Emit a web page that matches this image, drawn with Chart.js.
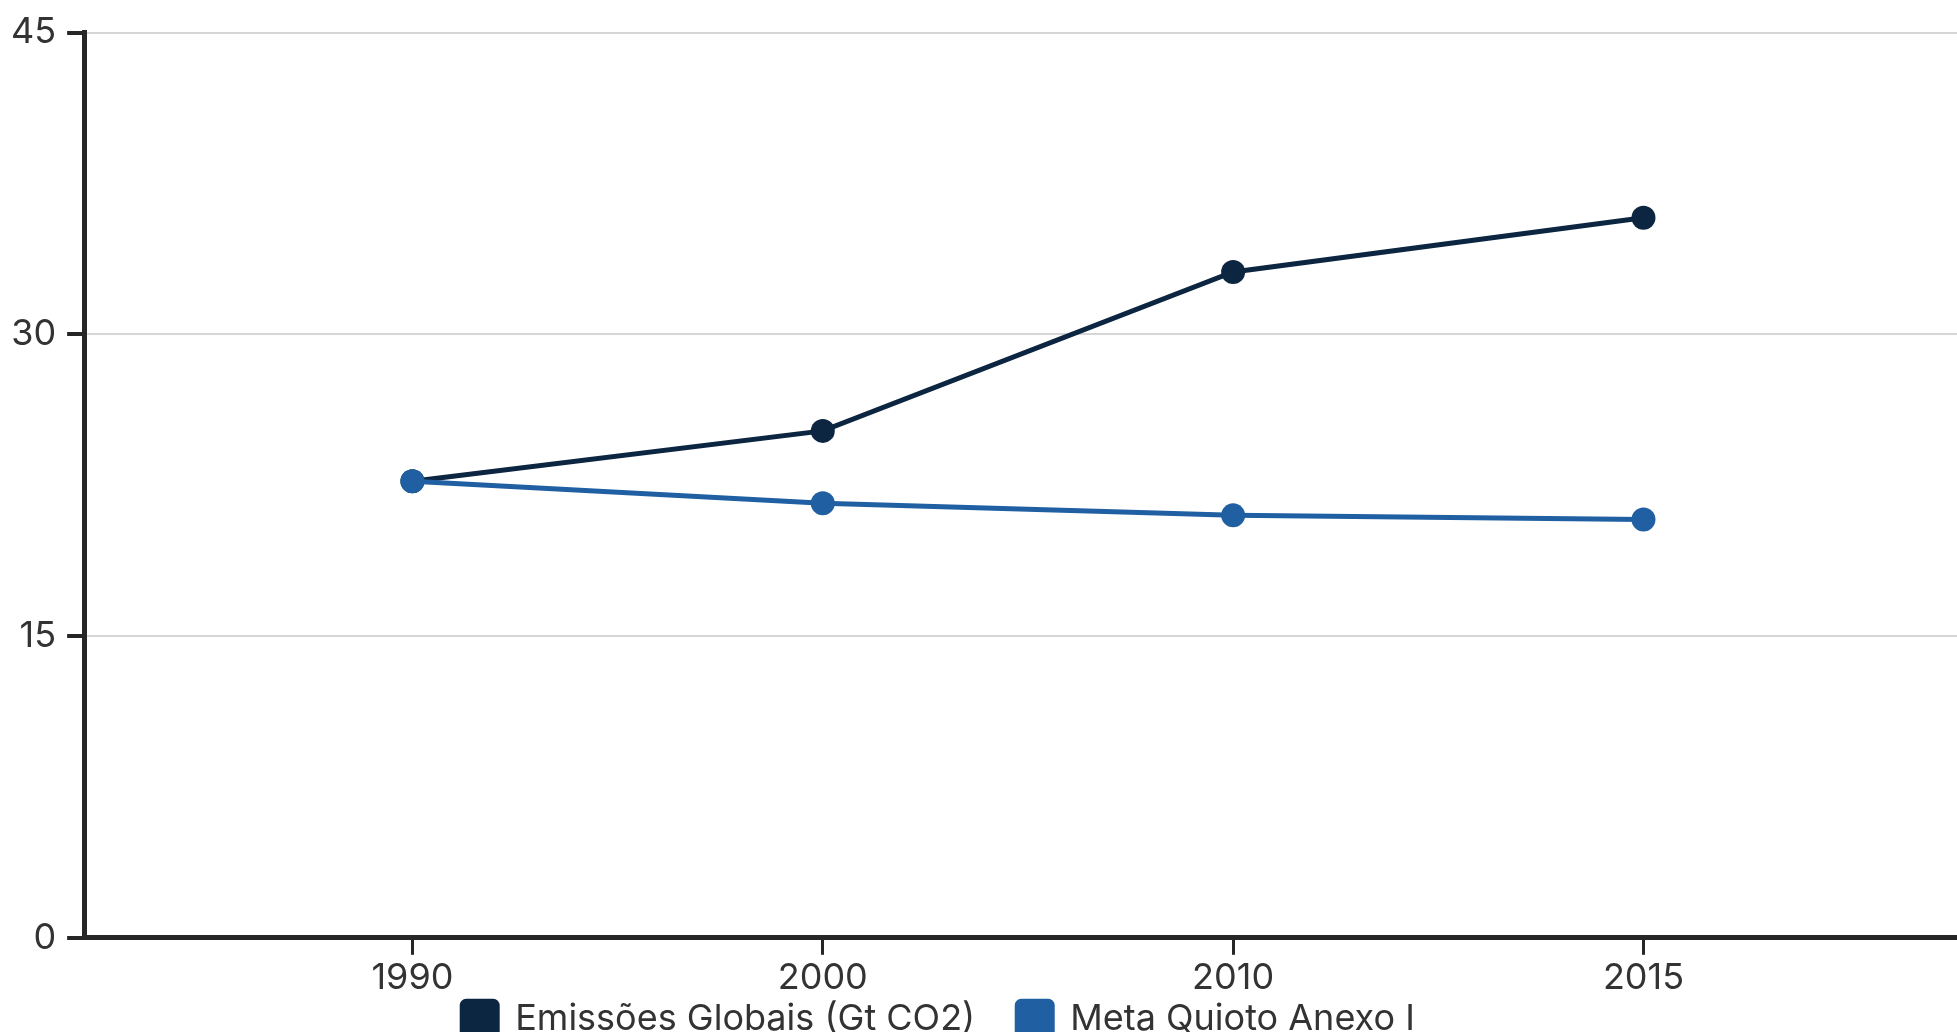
<!DOCTYPE html>
<html>
<head>
<meta charset="utf-8">
<script src="https://cdn.jsdelivr.net/npm/chart.js@4/dist/chart.umd.min.js"></script>
<style>
    html, body { margin: 0; padding: 0; background: #fff; overflow: hidden; }
    #wrap { position: relative; width: 1957px; height: 1090px; }
</style>
</head>
<body>
<div id="wrap"><canvas id="emissionsChart"></canvas></div>
<script>
// Chart data
const years = ['1990', '2000', '2010', '2015'];
const emissoesGlobais = [22.7, 25.2, 33.1, 35.8];
const metaQuioto = [22.7, 21.6, 21.0, 20.8];
const seriesNames = ['Emissões Globais (Gt CO2)', 'Meta Quioto Anexo I'];
const seriesColors = ['#0c2541', '#1f5fa2'];
const yMin = 0;
const yMax = 45;
const yStep = 15;

const axisColor = '#262626';
const textColor = '#333333';

Chart.defaults.font.family = 'Inter';

// pairs each year index with its value so the linear x scale can place it
const toPoints = (values) => values.map((v, i) => ({ x: i, y: v }));

// nudges the bottom legend to where the reference draws it
const legendShift = {
    id: 'legendShift',
    afterLayout(chart) {
        const lg = chart.legend;
        const pad = lg.options.labels.padding;
        const dx = -40;
        const top = chart.chartArea.bottom + 63 - pad;
        const h = lg.bottom - lg.top;
        lg.left += dx;
        lg.right += dx;
        lg.top = top;
        lg.bottom = top + h;
    }
};

const ctx = document.getElementById('emissionsChart');

new Chart(ctx, {
    type: 'line',
    data: {
        datasets: [
            {
                label: seriesNames[0],
                data: toPoints(emissoesGlobais),
                borderColor: seriesColors[0],
                backgroundColor: seriesColors[0],
                order: 1
            },
            {
                label: seriesNames[1],
                data: toPoints(metaQuioto),
                borderColor: seriesColors[1],
                backgroundColor: seriesColors[1],
                order: 0
            }
        ]
    },
    options: {
        responsive: true,
        maintainAspectRatio: false,
        animation: false,
        layout: {
            autoPadding: false,
            padding: { top: 12, left: 0, right: 0, bottom: 0 }
        },
        elements: {
            line: { borderWidth: 5, tension: 0 },
            point: { radius: 12, borderWidth: 0, hoverRadius: 12 }
        },
        scales: {
            x: {
                type: 'linear',
                min: -0.8,
                max: 3.764,
                afterBuildTicks(scale) {
                    scale.ticks = years.map((_, i) => ({ value: i }));
                },
                ticks: {
                    callback: (value) => years[value],
                    color: textColor,
                    font: { size: 36 },
                    padding: 2,
                    maxRotation: 0
                },
                grid: {
                    drawOnChartArea: false,
                    tickColor: axisColor,
                    tickWidth: 3,
                    tickLength: 17
                },
                border: { color: axisColor, width: 5 }
            },
            y: {
                min: yMin,
                max: yMax,
                ticks: {
                    stepSize: yStep,
                    color: textColor,
                    font: { size: 36 },
                    padding: 11
                },
                grid: {
                    color: '#d6d6d6',
                    lineWidth: 2,
                    tickColor: axisColor,
                    tickWidth: 4,
                    tickLength: 17
                },
                border: { color: axisColor, width: 5 }
            }
        },
        plugins: {
            legend: {
                position: 'bottom',
                labels: {
                    color: textColor,
                    font: { size: 36 },
                    boxWidth: 35,
                    boxHeight: 35,
                    useBorderRadius: true,
                    borderRadius: 4,
                    padding: 42,
                    sort: (a, b) => a.datasetIndex - b.datasetIndex
                }
            },
            tooltip: { enabled: false }
        }
    },
    plugins: [legendShift]
});
</script>
</body>
</html>
